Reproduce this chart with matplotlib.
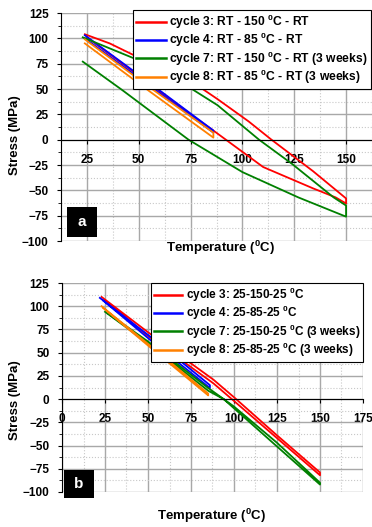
import matplotlib
matplotlib.use('Agg')
import matplotlib.pyplot as plt
from matplotlib.ticker import MultipleLocator
from matplotlib.patches import Rectangle

plt.rcParams['font.family'] = ['Liberation Sans', 'DejaVu Sans']
plt.rcParams['font.weight'] = 'bold'
plt.rcParams['mathtext.fontset'] = 'custom'
plt.rcParams['mathtext.rm'] = 'Liberation Sans:bold'
plt.rcParams['mathtext.bf'] = 'Liberation Sans:bold'
plt.rcParams['mathtext.default'] = 'bf'

# ---- panel a data (temperature in C, stress in MPa) ----
a_c3_T = [24, 36, 48, 70, 88, 103, 114, 134, 150, 150, 145, 134, 110, 92, 86, 75, 50, 25]
a_c3_S = [104, 95, 83, 65, 40, 18, 0, -31, -58, -63, -57, -48, -27, 0, 9, 25, 63, 101]
a_c4_T = [24, 50, 86, 86, 50, 24]
a_c4_S = [103, 64, 9, 7, 61, 100]
a_c7_T = [23, 42, 74, 100, 127, 150, 150, 144, 124, 108, 88, 64, 48, 23]
a_c7_S = [77, 49, 0, -32, -57, -76, -65, -57, -24, 0, 34, 65, 80, 101]
a_c8_T = [24, 55, 86, 86, 55, 24]
a_c8_S = [99, 52, 7, 2, 48, 95]

# ---- panel b data ----
b_c3_T = [23, 50, 88, 100, 125, 150, 150, 125, 100, 88, 50, 25]
b_c3_S = [110, 72, 21, 2, -39, -79, -82, -42, -2, 17, 68, 106]
b_c4_T = [22, 55, 86, 86, 55, 24]
b_c4_S = [109, 62, 15, 12, 58, 106]
b_c7_T = [25, 50, 85, 94, 125, 150, 150, 125, 100, 85, 50, 27]
b_c7_S = [94, 60, 9, 0, -51, -92, -90, -47, -8, 12, 62, 92]
b_c8_T = [23, 55, 85, 85, 55, 24]
b_c8_S = [100, 52, 6, 4, 50, 98]

colors = ['#ff0000', '#0000ff', '#008000', '#ff8000']
labels_a = ['cycle 3: RT - 150 $^0$C - RT',
            'cycle 4: RT - 85 $^0$C - RT',
            'cycle 7: RT - 150 $^0$C - RT (3 weeks)',
            'cycle 8: RT - 85 $^0$C - RT (3 weeks)']
labels_b = ['cycle 3: 25-150-25 $^0$C',
            'cycle 4: 25-85-25 $^0$C',
            'cycle 7: 25-150-25 $^0$C (3 weeks)',
            'cycle 8: 25-85-25 $^0$C (3 weeks)']

fig = plt.figure(figsize=(3.72, 5.27), dpi=100)
ax1 = fig.add_axes([61/372, 1-241/527, 311/372, 228/527])
ax2 = fig.add_axes([62/372, 1-492/527, 301/372, 209/527])


def style(ax, xmin, xmax):
    ax.set_xlim(xmin, xmax)
    ax.set_ylim(-100, 125)
    ax.xaxis.set_major_locator(MultipleLocator(25))
    ax.xaxis.set_minor_locator(MultipleLocator(12.5))
    ax.yaxis.set_major_locator(MultipleLocator(25))
    ax.yaxis.set_minor_locator(MultipleLocator(12.5))
    ax.grid(which='major', color='#a8a8a8', lw=1.0, ls='-')
    ax.grid(which='minor', color='#c8c8c8', lw=0.8, ls=':')
    ax.set_axisbelow(True)
    ax.spines['bottom'].set_position(('data', 0))
    ax.spines['top'].set_visible(False)
    ax.spines['right'].set_visible(False)
    ax.tick_params(axis='both', which='major', labelsize=8.5, length=3, width=0.8)
    ax.tick_params(axis='y', which='major', pad=6)
    ax.tick_params(axis='x', which='major', pad=7)
    ax.tick_params(axis='y', which='minor', length=2)
    ax.tick_params(axis='x', which='minor', length=0)


for ax, data, labels in [
        (ax1, [(a_c3_T, a_c3_S), (a_c4_T, a_c4_S), (a_c7_T, a_c7_S), (a_c8_T, a_c8_S)], labels_a),
        (ax2, [(b_c3_T, b_c3_S), (b_c4_T, b_c4_S), (b_c7_T, b_c7_S), (b_c8_T, b_c8_S)], labels_b)]:
    for (T, S), c, lab in zip(data, colors, labels):
        ax.plot(T, S, color=c, lw=1.3, label=lab)

style(ax1, 12.5, 162.5)
style(ax2, 0, 175)

leg1 = ax1.legend(loc='upper right', bbox_to_anchor=(0.997, 1.013), borderaxespad=0,
                  fontsize=8.7, handlelength=2.5, handletextpad=0.3, labelspacing=0.0,
                  borderpad=0.25, fancybox=False, edgecolor='black', framealpha=1)
leg2 = ax2.legend(loc='upper right', bbox_to_anchor=(1.0, 1.0), borderaxespad=0,
                  fontsize=8.5, handlelength=2.4, handletextpad=0.3, labelspacing=0.0,
                  borderpad=0.25, fancybox=False, edgecolor='black', framealpha=1)
for leg in (leg1, leg2):
    leg.get_frame().set_linewidth(0.8)
    for h in leg.get_lines():
        h.set_linewidth(1.8)

# axis labels
fig.text(15/372, 1-135/527, 'Stress (MPa)', rotation=90, ha='center', va='center', fontsize=9.5)
fig.text(221/372, 1-248/527, 'Temperature ($^0$C)', ha='center', va='center', fontsize=9.5)
fig.text(15/372, 1-400/527, 'Stress (MPa)', rotation=90, ha='center', va='center', fontsize=9.5)
fig.text(212/372, 1-516/527, 'Temperature ($^0$C)', ha='center', va='center', fontsize=9.5)

# panel letters
for (x0, y0, w, h), letter in [((67, 207, 30, 30), 'a'), ((64, 470, 30, 28), 'b')]:
    fig.patches.append(Rectangle((x0/372, 1-(y0+h)/527), w/372, h/527,
                                 transform=fig.transFigure, facecolor='black',
                                 edgecolor='none', zorder=5))
    fig.text((x0+w/2)/372, 1-(y0+h/2)/527, letter, color='white', ha='center',
             va='center', fontsize=11, zorder=6)

fig.savefig('out.png', dpi=100)
